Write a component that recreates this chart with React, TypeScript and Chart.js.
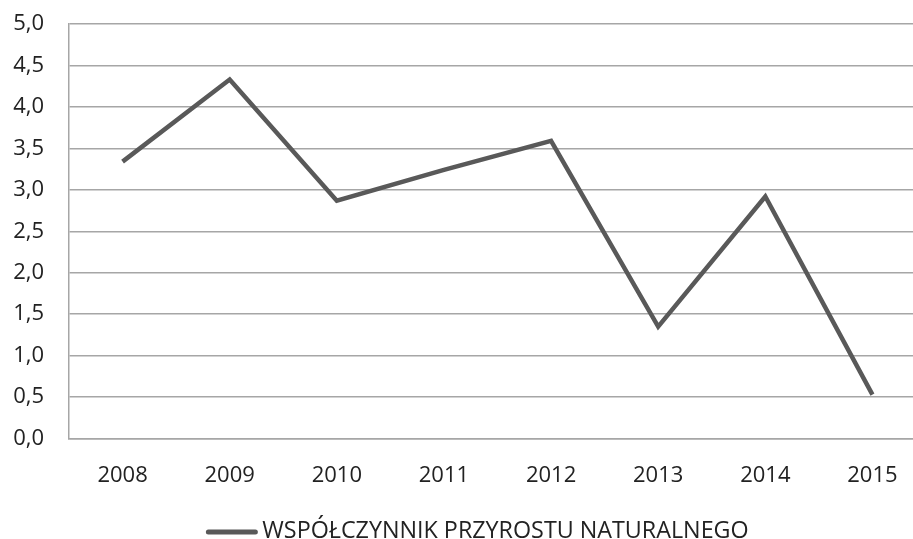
import React, { useEffect, useRef } from 'react';
import { Chart, registerables } from 'chart.js';

Chart.register(...registerables);

const categories = ['2008', '2009', '2010', '2011', '2012', '2013', '2014', '2015'];
const seriesLabel = 'WSPÓŁCZYNNIK PRZYROSTU NATURALNEGO';
const seriesValues = [3.34, 4.33, 2.87, 3.24, 3.59, 1.35, 2.92, 0.53];
const yMin = 0;
const yMax = 5;
const yStep = 0.5;

const FONT = 'Open Sans';
const TEXT = '#222222';
const GRID = '#a6a6a6';
const LINE = '#595959';
const LEGEND_SIZE = 23.3;

const bottomLegend = {
  id: 'bottomLegend',
  afterDraw(chart: any) {
    const ctx = chart.ctx;
    ctx.save();
    ctx.font = `${LEGEND_SIZE}px "${FONT}"`;
    const tw = ctx.measureText(seriesLabel).width;
    const sw = 51;
    const gap = 5;
    const total = sw + gap + tw;
    const cx = (chart.chartArea.left + chart.chartArea.right) / 2 - 20;
    const y = chart.height - 7;
    const x0 = cx - total / 2;
    ctx.strokeStyle = LINE;
    ctx.lineWidth = 5;
    ctx.lineCap = 'round';
    ctx.beginPath();
    ctx.moveTo(x0 + 2, y);
    ctx.lineTo(x0 + sw - 2, y);
    ctx.stroke();
    ctx.fillStyle = TEXT;
    ctx.textBaseline = 'middle';
    ctx.textAlign = 'left';
    ctx.fillText(seriesLabel, x0 + sw + gap, y - 1);
    ctx.restore();
  },
};

export default function App() {
  const ref = useRef<HTMLCanvasElement>(null);

  useEffect(() => {
    if (!ref.current) return;
    const chart = new Chart(ref.current, {
      type: 'line',
      data: {
        labels: categories,
        datasets: [
          {
            label: seriesLabel,
            data: seriesValues,
            borderColor: LINE,
            backgroundColor: LINE,
            borderWidth: 4.5,
            pointRadius: 0,
            pointHoverRadius: 0,
            tension: 0,
            fill: false,
            borderJoinStyle: 'miter',
          },
        ],
      },
      options: {
        animation: false,
        responsive: true,
        maintainAspectRatio: false,
        layout: { padding: { left: 10, right: 0, top: 24, bottom: 26 } },
        scales: {
          x: {
            offset: true,
            grid: { display: false, drawTicks: false },
            border: { color: GRID, width: 1.5 },
            ticks: { font: { family: FONT, size: 22 }, color: TEXT, padding: 24 },
          },
          y: {
            min: yMin,
            max: yMax,
            afterFit: (s: any) => {
              s.width = 59;
              s.paddingTop = 0;
              s.paddingBottom = 0;
            },
            ticks: {
              stepSize: yStep,
              font: { family: FONT, size: 22 },
              color: TEXT,
              padding: 25,
              callback: (v: any) => Number(v).toFixed(1).replace('.', ','),
            },
            grid: { color: GRID, lineWidth: 1.5, drawTicks: false },
            border: { color: GRID, width: 1.5 },
          },
        },
        plugins: {
          legend: { display: false },
          tooltip: { enabled: false },
        },
      },
      plugins: [bottomLegend],
    });
    return () => chart.destroy();
  }, []);

  return (
    <div style={{ position: 'absolute', left: 0, top: 0, width: 913, height: 539, overflow: 'hidden', background: '#fff' }}>
      <div style={{ position: 'relative', width: 926, height: 539 }}>
        <canvas ref={ref} />
      </div>
    </div>
  );
}
